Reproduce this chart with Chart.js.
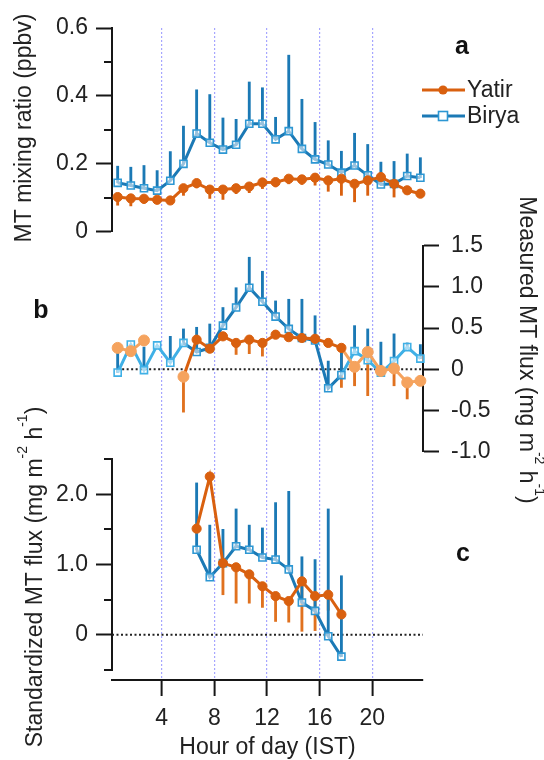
<!DOCTYPE html>
<html><head><meta charset="utf-8">
<script src="https://cdn.jsdelivr.net/npm/chart.js@4.4.0/dist/chart.umd.min.js"></script>
<style>html,body{margin:0;padding:0;background:#fff;}#wrap{width:544px;height:760px;}</style>
</head><body><div id="wrap"><canvas id="c" width="544" height="760"></canvas></div>
<script>
// ---------- data ----------
const hours = [0.65, 1.65, 2.65, 3.65, 4.65, 5.65, 6.65, 7.65, 8.65, 9.65, 10.65, 11.65,
               12.65, 13.65, 14.65, 15.65, 16.65, 17.65, 18.65, 19.65, 20.65, 21.65, 22.65, 23.65];
const xTicks = [4, 8, 12, 16, 20];
const aTicks = [0, 0.2, 0.4, 0.6];
const aMinor = [0.1, 0.3, 0.5];
const bTicks = [-1.0, -0.5, 0, 0.5, 1.0, 1.5];
const cTicks = [0, 1.0, 2.0];
const cMinor = [-0.5, 0.5, 1.5, 2.5];

// panel a: MT mixing ratio (ppbv)
const aYatir   = [0.102, 0.098, 0.097, 0.094, 0.092, 0.128, 0.143, 0.124, 0.124, 0.128, 0.133, 0.145,
                  0.146, 0.156, 0.154, 0.159, 0.151, 0.156, 0.141, 0.151, 0.161, 0.141, 0.122, 0.112];
const aYatirLo = [0.078, 0.076, 0.083, 0.083, 0.088, 0.107, 0.129, 0.098, 0.095, 0.112, 0.115, 0.127,
                  0.132, 0.141, 0.139, 0.137, 0.119, 0.107, 0.088, 0.107, 0.139, 0.102, 0.115, 0.105];
const aBirya   = [0.144, 0.136, 0.128, 0.121, 0.150, 0.200, 0.289, 0.262, 0.242, 0.256, 0.318, 0.318,
                  0.272, 0.296, 0.244, 0.213, 0.198, 0.174, 0.195, 0.166, 0.139, 0.141, 0.164, 0.159];
const aBiryaHi = [0.193, 0.190, 0.195, 0.180, 0.236, 0.311, 0.418, 0.404, 0.335, 0.331, 0.441, 0.424,
                  0.337, 0.520, 0.390, 0.322, 0.268, 0.237, 0.290, 0.257, 0.205, 0.207, 0.229, 0.218];

// panel b: measured MT flux (mg m-2 h-1)
const bYatir   = [0.26, 0.22, 0.35, null, null, -0.09, 0.36, 0.25, 0.40, 0.32, 0.36, 0.32,
                  0.42, 0.39, 0.38, 0.37, 0.32, 0.26, 0.03, 0.21, -0.02, 0.01, -0.16, -0.14];
const bYatirLo = [0.26, 0.22, 0.35, null, null, -0.52, 0.36, 0.25, 0.40, 0.18, 0.19, 0.16,
                  0.42, 0.39, 0.38, 0.37, 0.32, -0.22, -0.20, -0.32, -0.02, -0.20, -0.36, -0.14];
const bBirya   = [-0.04, 0.30, -0.01, 0.29, 0.08, 0.32, 0.21, 0.26, 0.53, 0.75, 0.99, 0.82,
                  0.64, 0.49, 0.38, 0.35, -0.23, -0.07, 0.22, 0.11, -0.04, 0.10, 0.27, 0.13];
const bBiryaHi = [0.27, 0.30, 0.27, 0.29, 0.40, 0.49, 0.51, 0.55, 0.75, 0.99, 1.36, 1.19,
                  0.83, 0.85, 0.85, 0.65, 0.10, 0.20, 0.53, 0.49, 0.33, 0.43, 0.32, 0.30];

// panel c: standardized MT flux (mg m-2 h-1)
const cYatir   = [null, null, null, null, null, null, 1.51, 2.25, 1.02, 0.96, 0.86, 0.69,
                  0.55, 0.48, 0.76, 0.55, 0.57, 0.29, null, null, null, null, null, null];
const cYatirLo = [null, null, null, null, null, null, 1.51, 2.25, 0.57, 0.45, 0.45, 0.39,
                  0.19, 0.18, 0.05, 0.06, 0.35, 0.29, null, null, null, null, null, null];
const cBirya   = [null, null, null, null, null, null, 1.21, 0.82, 1.02, 1.26, 1.21, 1.10,
                  1.07, 0.93, 0.46, 0.34, -0.02, -0.31, null, null, null, null, null, null];
const cBiryaHi = [null, null, null, null, null, null, 2.16, 1.56, 1.50, 1.79, 1.56, 1.52,
                  1.88, 2.04, 1.11, 1.07, 1.79, 0.84, null, null, null, null, null, null];

// ---------- styling ----------
const FONT = '"Liberation Sans", Arial, Helvetica, sans-serif';
const FS = 23;
const ORANGE = '#d9600f', ORANGE_L = '#f5a35e', ORANGE_E = '#e0711f';
const BLUE = '#1b79b5', BLUE_L = '#3fb0e6', SQ = '#2d97d3';
const GRIDC = '#a6a6ff', AXC = '#161616', TXT = '#222';
const isNight = i => i <= 5 || i >= 18;

function pts(ys) { return hours.map((h, i) => ({x: h, y: ys[i]})); }
function bars(a, b) {
  const out = [];
  hours.forEach((h, i) => {
    if (a[i] == null || b[i] == null) return;
    out.push({x: h, y: [Math.min(a[i], b[i]), Math.max(a[i], b[i])]});
  });
  return out;
}
function errDS(data, axis, color) {
  return {type: 'bar', data, yAxisID: axis, backgroundColor: color, borderWidth: 0,
          barThickness: 2.2, grouped: false, order: 10, clip: false};
}
function lineDS(data, axis, opts) {
  return Object.assign({type: 'line', data, yAxisID: axis, borderWidth: 3, tension: 0,
          clip: false, order: 1, spanGaps: false}, opts);
}
const yatirStyle = {borderColor: ORANGE, pointStyle: 'circle', pointRadius: 4.6,
                    pointBackgroundColor: ORANGE, pointBorderColor: ORANGE, pointBorderWidth: 1};
const biryaStyle = {borderColor: BLUE, pointStyle: 'rect', pointRadius: 5,
                    pointBackgroundColor: 'rgba(255,255,255,0.55)', pointBorderColor: SQ, pointBorderWidth: 1.6};

const datasets = [
  // panel a
  errDS(bars(aBirya, aBiryaHi), 'ya', BLUE),
  errDS(bars(aYatirLo, aYatir), 'ya', ORANGE),
  lineDS(pts(aYatir), 'ya', yatirStyle),
  lineDS(pts(aBirya), 'ya', biryaStyle),
  // panel b
  {type: 'line', data: [{x: 0.65, y: 0}, {x: 23.85, y: 0}], yAxisID: 'yb', borderColor: '#222',
   borderWidth: 2, borderDash: [2, 2.5], pointRadius: 0, order: 20},
  errDS(bars(bBirya, bBiryaHi), 'yb', BLUE),
  errDS(bars(bYatirLo, bYatir), 'yb', ORANGE_E),
  lineDS(pts(bYatir), 'yb', Object.assign({}, yatirStyle, {
    pointBackgroundColor: c => isNight(c.dataIndex) ? ORANGE_L : ORANGE,
    pointBorderColor: c => isNight(c.dataIndex) ? ORANGE_L : ORANGE,
    pointRadius: c => isNight(c.dataIndex) ? 5.5 : 4.6,
    segment: {borderColor: c => isNight(c.p1DataIndex) ? ORANGE_L : ORANGE}})),
  lineDS(pts(bBirya), 'yb', Object.assign({}, biryaStyle, {
    pointBorderColor: c => isNight(c.dataIndex) ? BLUE_L : SQ,
    segment: {borderColor: c => isNight(c.p1DataIndex) ? BLUE_L : BLUE}})),
  // panel c
  {type: 'line', data: [{x: 0.22, y: 0}, {x: 23.85, y: 0}], yAxisID: 'yc', borderColor: '#222',
   borderWidth: 2, borderDash: [2, 2.5], pointRadius: 0, order: 20},
  errDS(bars(cBirya, cBiryaHi), 'yc', BLUE),
  errDS(bars(cYatirLo, cYatir), 'yc', ORANGE_E),
  lineDS(pts(cYatir), 'yc', yatirStyle),
  lineDS(pts(cBirya), 'yc', biryaStyle),
];

const fmt = v => (v === 0 ? '0' : v.toFixed(1));
const setTicks = arr => s => { s.ticks = arr.map(v => ({value: v})); };
function yAxis(pos, stack, weight, sw, min, max, ticks, width, pad) {
  return {type: 'linear', position: pos, stack, stackWeight: sw, weight, min, max,
    afterBuildTicks: setTicks(ticks), afterFit: s => { s.width = width; },
    grid: {drawOnChartArea: false, drawTicks: true, offset: false, tickLength: 16, tickColor: AXC, tickWidth: 2},
    border: {display: true, color: AXC, width: 2},
    ticks: {font: {size: FS, family: FONT}, color: TXT, padding: pad, autoSkip: false, callback: fmt}};
}
function spacer(pos, stack, weight, sw, width) {
  return {type: 'linear', position: pos, stack, stackWeight: sw, weight, display: false,
          afterFit: s => { s.width = width; }};
}

const scales = {
  x: {type: 'linear', position: 'bottom', min: 0.22, max: 23.85, offset: false,
      afterBuildTicks: setTicks(xTicks), afterFit: s => { s.height = 80; },
      grid: {display: true, drawOnChartArea: true, drawTicks: true, offset: false, color: GRIDC, lineWidth: 1.2,
             tickColor: AXC, tickWidth: 2, tickLength: 16},
      border: {display: true, color: AXC, width: 2, dash: [2, 2]},
      ticks: {font: {size: FS, family: FONT}, color: TXT, padding: 9, maxRotation: 0, autoSkip: false,
              callback: v => String(v)}},
  ya: yAxis('left', 'L', 3, 203.7, 0, 0.6, aTicks, 112, 8),
  sL1: spacer('left', 'L', 2, 227.3, 112),
  yc: yAxis('left', 'L', 1, 211, -0.5, 2.5, cTicks, 112, 8),
  sL2: spacer('left', 'L', 0, 10, 112),
  sR1: spacer('right', 'R', 0, 217.7, 121),
  yb: yAxis('right', 'R', 1, 206, -1.0, 1.5, bTicks, 121, 12),
  sR2: spacer('right', 'R', 2, 228.3, 121),
};

function richText(ctx, parts, cx, cy, rot) {
  ctx.save();
  ctx.translate(cx, cy); ctx.rotate(rot);
  const big = FS + 'px ' + FONT, small = '14px ' + FONT;
  let w = 0;
  parts.forEach(p => { ctx.font = p[1] ? small : big; w += ctx.measureText(p[0]).width; });
  let x = -w / 2;
  ctx.fillStyle = TXT; ctx.textBaseline = 'alphabetic'; ctx.textAlign = 'left';
  parts.forEach(p => {
    ctx.font = p[1] ? small : big;
    ctx.fillText(p[0], x, p[1] ? 8 - 15 : 8);
    x += ctx.measureText(p[0]).width;
  });
  ctx.restore();
}

const decor = {
  id: 'decor',
  afterDraw(chart) {
    const ctx = chart.ctx;
    const ya = chart.scales.ya, yc = chart.scales.yc;
    ctx.save();
    ctx.strokeStyle = AXC; ctx.lineWidth = 2;
    [[ya, aMinor], [yc, cMinor]].forEach(([s, vals]) => {
      vals.forEach(v => {
        const y = Math.round(s.getPixelForValue(v));
        ctx.beginPath(); ctx.moveTo(s.right, y); ctx.lineTo(s.right - 8, y); ctx.stroke();
      });
    });
    // axis titles
    ctx.fillStyle = TXT; ctx.textAlign = 'center'; ctx.textBaseline = 'middle';
    ctx.font = FS + 'px ' + FONT;
    ctx.fillText('Hour of day (IST)', (chart.chartArea.left + chart.chartArea.right) / 2, 748);
    richText(ctx, [['MT mixing ratio (ppbv)', false]], 23, 128, -Math.PI / 2);
    richText(ctx, [['Standardized MT flux (mg m', false], ['-2', true], [' h', false], ['-1', true], [')', false]],
             34, 577, -Math.PI / 2);
    richText(ctx, [['Measured MT flux (mg m', false], ['-2', true], [' h', false], ['-1', true], [')', false]],
             528, 350, Math.PI / 2);
    // panel letters
    ctx.font = 'bold 25px ' + FONT; ctx.fillStyle = '#111'; ctx.textAlign = 'center'; ctx.textBaseline = 'middle';
    ctx.fillText('a', 462, 47);
    ctx.fillText('b', 41, 311);
    ctx.fillText('c', 463, 554);
    // legend
    const L = [['Yatir', 90, ORANGE, 'circle'], ['Birya', 116, BLUE, 'rect']];
    L.forEach(([name, y, col, shape]) => {
      ctx.strokeStyle = col; ctx.lineWidth = 3;
      ctx.beginPath(); ctx.moveTo(422, y); ctx.lineTo(465, y); ctx.stroke();
      if (shape === 'circle') {
        ctx.fillStyle = col; ctx.beginPath(); ctx.arc(443, y, 4.6, 0, Math.PI * 2); ctx.fill();
      } else {
        ctx.fillStyle = '#fff'; ctx.fillRect(438.5, y - 4.5, 9, 9);
        ctx.strokeStyle = SQ; ctx.lineWidth = 1.6; ctx.strokeRect(438.5, y - 4.5, 9, 9);
      }
      ctx.fillStyle = TXT; ctx.font = FS + 'px ' + FONT; ctx.textAlign = 'left'; ctx.textBaseline = 'middle';
      ctx.fillText(name, 467, y + 1);
    });
    ctx.restore();
  }
};

new Chart(document.getElementById('c'), {
  type: 'line',
  data: {datasets},
  options: {
    responsive: false, animation: false, devicePixelRatio: 1,
    layout: {padding: {top: 28, bottom: 0, left: 0, right: 0}},
    plugins: {legend: {display: false}, tooltip: {enabled: false}},
    scales
  },
  plugins: [decor]
});
</script></body></html>
